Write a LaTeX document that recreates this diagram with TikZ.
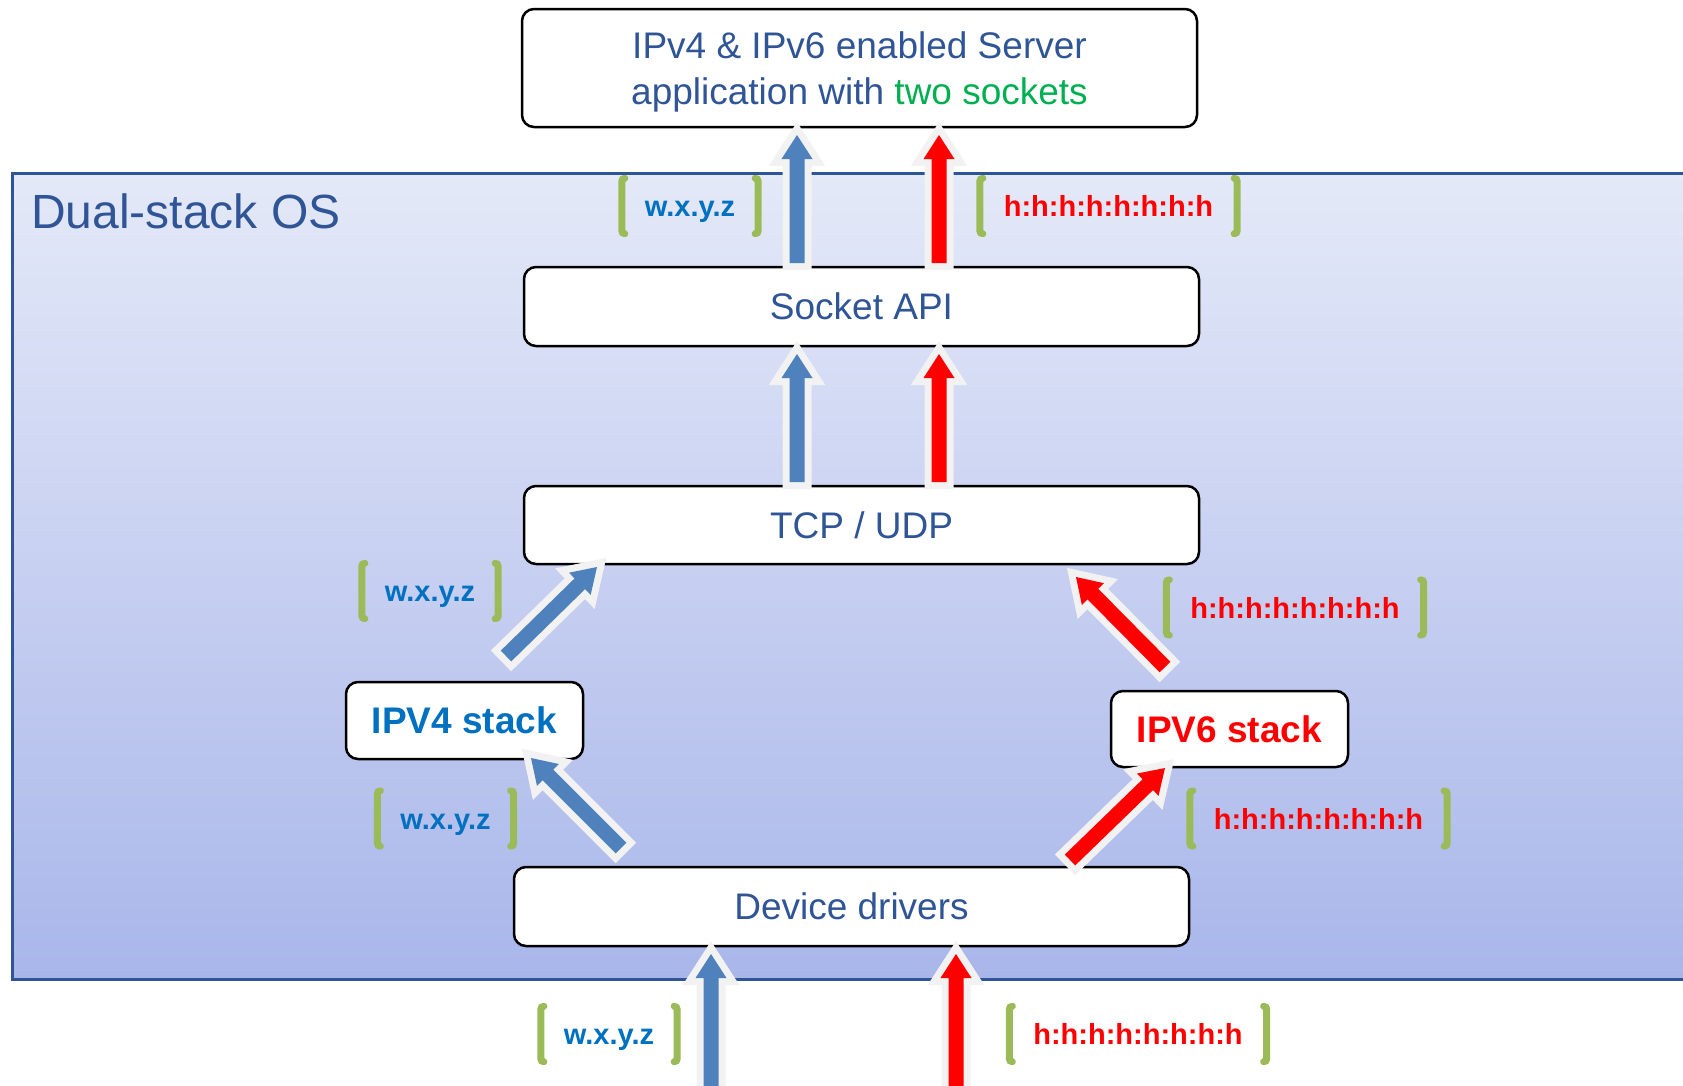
\documentclass[tikz,border=0pt]{standalone}
\usepackage{fontspec}
\setmainfont{Liberation Sans}
\usetikzlibrary{calc}
\definecolor{osblue}{HTML}{2F5597}
\definecolor{labblue}{HTML}{0070C0}
\definecolor{labred}{HTML}{FF0000}
\definecolor{txtgreen}{HTML}{00B050}
\definecolor{brkgreen}{HTML}{9BBB59}
\definecolor{arrblue}{HTML}{4F81BD}
\definecolor{outl}{HTML}{F2F2F2}
\definecolor{ostop}{HTML}{E4E9F8}
\definecolor{osbot}{HTML}{A9B6EA}
\tikzset{
  box/.style={draw=black, line width=2.5pt, fill=white, rounded corners=12pt, inner sep=0pt,
    text=osblue, font=\fontsize{37}{46}\selectfont},
  stackbox/.style={box, font=\fontsize{37}{46}\selectfont\bfseries},
  lab/.style={minimum width=#1, minimum height=55pt, inner sep=0pt, text height=21pt, text depth=0pt,
    font=\fontsize{29}{34}\selectfont\bfseries},
  brk/.style={draw=brkgreen, line width=7pt, line cap=round, rounded corners=3pt},
  blockarr/.style={preaction={draw=outl, line width=14pt, line join=miter, miter limit=20}, fill=#1},
}
\newcommand\blockarrow[3]{%
  \path[blockarr=#3] ($(#1)!7.5pt!90:(#2)$) -- ($(#2)!24pt!(#1)!7.5pt!90:(#2)$)
    -- ($(#2)!24pt!(#1)!15.5pt!90:(#2)$) -- (#2) -- ($(#2)!24pt!(#1)!15.5pt!-90:(#2)$)
    -- ($(#2)!24pt!(#1)!7.5pt!-90:(#2)$) -- ($(#1)!7.5pt!-90:(#2)$) -- cycle;}
\newcommand\brackets[1]{%
  \draw[brk] ([xshift=3pt]#1.north west) -- (#1.north west) -- (#1.south west) -- ([xshift=3pt]#1.south west);
  \draw[brk] ([xshift=-3pt]#1.north east) -- (#1.north east) -- (#1.south east) -- ([xshift=-3pt]#1.south east);}
\begin{document}
\begin{tikzpicture}[x=1pt,y=-1pt]
\path[use as bounding box] (0,0) rectangle (1683,1085);
\clip (0,0) rectangle (1683,1085);
\fill[white] (0,0) rectangle (1683,1085);
% OS frame
\node[draw=osblue, line width=3pt, top color=ostop, bottom color=osbot, minimum width=1700pt,
  minimum height=806pt, anchor=north west, inner sep=0pt] (os) at (11,172) {};
\node[anchor=base west, inner sep=0pt, text=osblue, font=\fontsize{48}{56}\selectfont] (oslabel) at (31,228) {Dual-stack OS};
% boxes
\node[box, minimum width=675pt, minimum height=118pt] (app) at (859.5,68)
  {\raisebox{-4pt}[\height][\depth]{\begin{tabular}{@{}c@{}}IPv4 \& IPv6 enabled Server\\application with \textcolor{txtgreen}{two sockets}\end{tabular}}};
\node[box, minimum width=675pt, minimum height=79pt] (sock) at (861.5,306.5) {Socket API};
\node[box, minimum width=675pt, minimum height=78pt] (tcp) at (861.5,525) {TCP / UDP};
\node[stackbox, text=labblue, minimum width=237pt, minimum height=77pt] (v4) at (464.5,720.5) {IPV4 stack};
\node[stackbox, text=labred, minimum width=237pt, minimum height=76pt] (v6) at (1229.5,729) {IPV6 stack};
\node[box, minimum width=675pt, minimum height=79pt] (dev) at (851.5,906.5) {Device drivers};
% labels
\node[lab=136pt, text=labblue] (l1) at (690,206) {w.x.y.z};
\node[lab=257pt, text=labred] (r1) at (1108.5,206) {h:h:h:h:h:h:h:h};
\node[lab=136pt, text=labblue] (l2) at (430,591) {w.x.y.z};
\node[lab=257pt, text=labred] (r2) at (1295,607.5) {h:h:h:h:h:h:h:h};
\node[lab=136pt, text=labblue] (l3) at (445.5,818.5) {w.x.y.z};
\node[lab=257pt, text=labred] (r3) at (1318.5,818.5) {h:h:h:h:h:h:h:h};
\node[lab=136pt, text=labblue] (l4) at (609,1034) {w.x.y.z};
\node[lab=257pt, text=labred] (r4) at (1138,1034) {h:h:h:h:h:h:h:h};
\brackets{l1}\brackets{r1}\brackets{l2}\brackets{r2}
\brackets{l3}\brackets{r3}\brackets{l4}\brackets{r4}
% arrow end points
\coordinate (a1s) at (797,263);  \coordinate (a1e) at (797,135);
\coordinate (a2s) at (939,263);  \coordinate (a2e) at (939,135);
\coordinate (a3s) at (797,482);  \coordinate (a3e) at (797,354);
\coordinate (a4s) at (939,482);  \coordinate (a4e) at (939,354);
\coordinate (a5s) at (506,656);  \coordinate (a5e) at (597,567);
\coordinate (a6s) at (1165,667); \coordinate (a6e) at (1076,577);
\coordinate (a7s) at (621,848);  \coordinate (a7e) at (531,758);
\coordinate (a8s) at (1070,860); \coordinate (a8e) at (1165,768);
\coordinate (a9s) at (711,1110); \coordinate (a9e) at (711,954);
\coordinate (a10s) at (956,1110); \coordinate (a10e) at (956,954);
\blockarrow{a1s}{a1e}{arrblue}
\blockarrow{a2s}{a2e}{labred}
\blockarrow{a3s}{a3e}{arrblue}
\blockarrow{a4s}{a4e}{labred}
\blockarrow{a5s}{a5e}{arrblue}
\blockarrow{a6s}{a6e}{labred}
\blockarrow{a7s}{a7e}{arrblue}
\blockarrow{a8s}{a8e}{labred}
\blockarrow{a9s}{a9e}{arrblue}
\blockarrow{a10s}{a10e}{labred}
\end{tikzpicture}
\end{document}
